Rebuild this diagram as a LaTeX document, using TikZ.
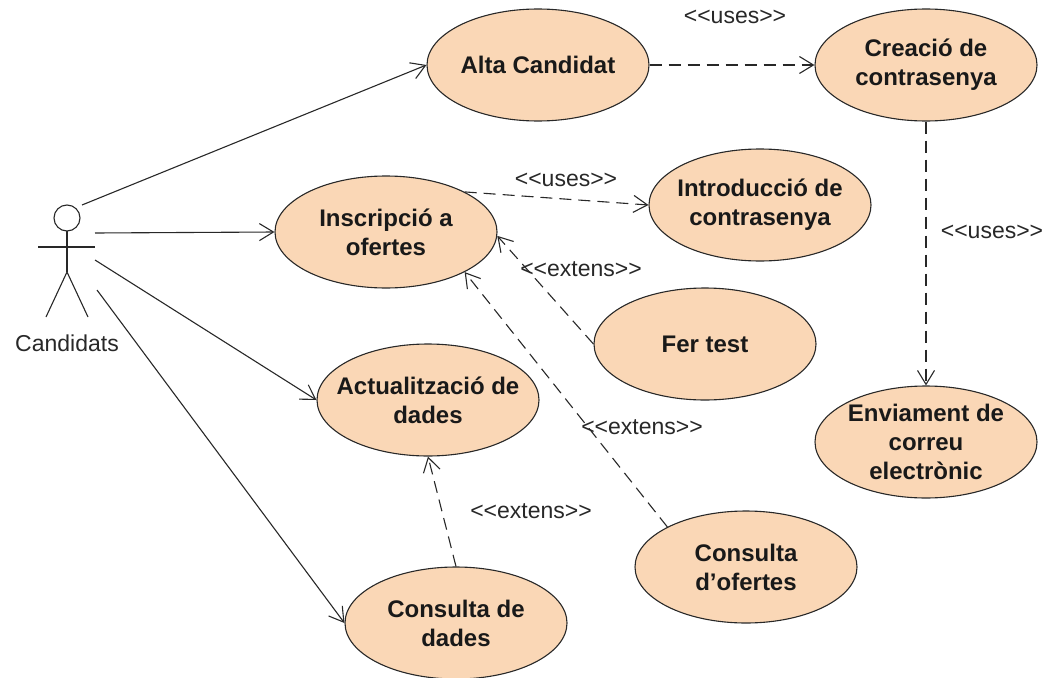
\documentclass[tikz,border=0pt]{standalone}
\usepackage{fontspec}
\setmainfont{Liberation Sans}
\usetikzlibrary{shapes.geometric,arrows.meta}
\definecolor{peach}{RGB}{250,215,182}
\definecolor{ink}{RGB}{40,40,40}
\newcommand\stereo[1]{{<}{<}#1{>}{>}}
\begin{document}
\begin{tikzpicture}[x=1pt,y=-1pt,
  uc/.style={ellipse,draw=ink,line width=1.1pt,fill=peach,minimum width=222pt,minimum height=112pt,inner xsep=-45pt,inner ysep=-25pt,align=center,font=\fontsize{24}{29}\selectfont\bfseries,text=black!90},
  assoc/.style={draw=ink,line width=1.1pt,-{Straight Barb[length=14pt,width=17pt]}},
  dep/.style={assoc,dash pattern=on 12pt off 7pt},
  lbl/.style={font=\fontsize{23}{27}\selectfont,text=ink,inner sep=0pt},
  actorline/.style={draw=ink,line width=1.1pt}]
\useasboundingbox (0,0) rectangle (1046,677);
% actor
\draw[actorline] (67,218) circle[radius=13pt];
\draw[actorline] (67,231) -- (67,272);
\draw[actorline] (38,247) -- (95,247);
\draw[actorline] (46,317) -- (67,272) -- (88,317);
\node[lbl] (candidats) at (67,343) {Candidats};
\coordinate (actA) at (82,205);
\coordinate (actB) at (95,233);
\coordinate (actC) at (95,260);
\coordinate (actD) at (97,290);
% use cases
\node[uc] (alta) at (538,65) {Alta Candidat};
\node[uc] (creacio) at (926,65) {Creació de\\contrasenya};
\node[uc] (insc) at (386,232) {Inscripció a\\ofertes};
\node[uc] (intro) at (760,205) {Introducció de\\contrasenya};
\node[uc] (fer) at (705,344) {Fer test};
\node[uc] (act) at (428,400) {Actualització de\\dades};
\node[uc] (env) at (926,442) {Enviament de\\correu\\electrònic};
\node[uc] (cdo) at (746,567) {Consulta\\d’ofertes};
\node[uc] (cdd) at (456,623) {Consulta de\\dades};
% associations
\draw[assoc] (actA) -- (alta.west);
\draw[assoc] (actB) -- (insc.west);
\draw[assoc] (actC) -- (act.west);
\draw[assoc] (actD) -- (cdd.west);
% dependencies
\draw[dep] (alta.east) -- (creacio.west);
\draw[dep] (insc.27) -- (intro.west);
\draw[dep] (creacio.south) -- (env.north);
\draw[dep] (fer.west) -- (insc.-2);
\draw[dep] (cdo.153) -- (insc.-27);
\draw[dep] (cdd.north) -- (act.south);
% labels
\node[lbl] (l1) at (735,17) {\stereo{uses}};
\node[lbl] (l2) at (566,180) {\stereo{uses}};
\node[lbl] (l3) at (992,232) {\stereo{uses}};
\node[lbl] (l4) at (581,269) {\stereo{extens}};
\node[lbl] (l5) at (642,427) {\stereo{extens}};
\node[lbl] (l6) at (531,511) {\stereo{extens}};
\end{tikzpicture}
\end{document}
